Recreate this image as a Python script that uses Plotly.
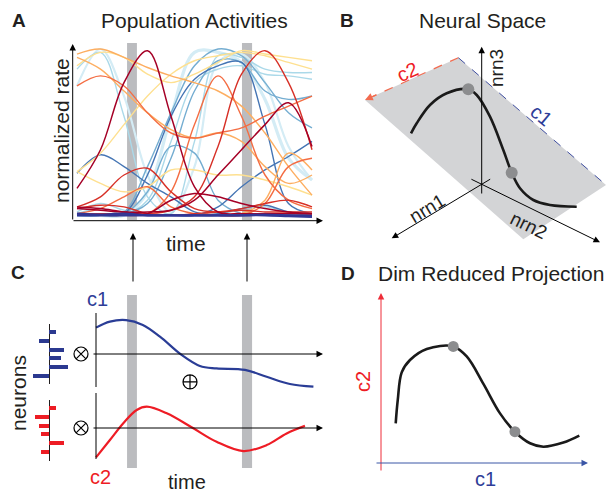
import plotly.graph_objects as go

W, H = 606, 495
FONT = "Liberation Sans, Arial, Helvetica, sans-serif"

# ---------------- data ----------------
# Panel A: population activity (normalized rate over time)
T_A = [0, 1, 2, 3, 4, 5, 6, 7, 8, 9, 10]
DR, R, OR, LO, YE = '#a50026', '#d73027', '#f46d43', '#fdae61', '#fee090'
VLB, LB, MB, BL, DB = '#d4ecf5', '#abd9e9', '#74add1', '#4575b4', '#313695'
A_COLORS = [VLB, VLB, LB, LB, LB, MB, MB, MB, BL, BL, BL, BL,
            YE, YE, YE, LO, LO, LO, OR, OR, OR, R, R, R, DR, DR, DR, DB, DB]
A_WIDTHS = [3.2, 2.2, 1.4, 1.4, 1.4, 1.4, 1.4, 1.4, 1.4, 1.4, 1.4, 1.4,
            1.4, 1.4, 1.4, 1.4, 1.4, 1.4, 1.4, 1.4, 1.4, 1.4, 1.4, 1.4, 1.5, 1.5, 1.5, 2.2, 2.2]
A_VALUES = [
    [0.01, 0.01, 0.01, 0.15, 0.60, 0.98, 0.98, 0.92, 0.70, 0.35, 0.22],
    [0.78, 1.00, 0.72, 0.25, 0.03, 0.30, 0.92, 0.97, 0.80, 0.42, 0.22],
    [0.88, 0.98, 0.60, 0.12, 0.02, 0.45, 0.96, 0.95, 0.88, 0.86, 0.86],
    [0.02, 0.05, 0.02, 0.10, 0.45, 0.80, 0.88, 0.90, 0.85, 0.84, 0.82],
    [0.03, 0.08, 0.04, 0.01, 0.01, 0.01, 0.01, 0.05, 0.06, 0.03, 0.01],
    [0.01, 0.01, 0.03, 0.30, 0.62, 0.90, 1.00, 0.96, 0.80, 0.62, 0.53],
    [0.01, 0.01, 0.02, 0.15, 0.42, 0.38, 0.10, 0.02, 0.01, 0.01, 0.01],
    [0.01, 0.01, 0.02, 0.08, 0.35, 0.75, 0.93, 0.92, 0.75, 0.70, 0.72],
    [0.01, 0.01, 0.02, 0.25, 0.60, 0.82, 0.90, 0.92, 0.55, 0.08, 0.02],
    [0.26, 0.37, 0.30, 0.20, 0.12, 0.03, 0.01, 0.01, 0.01, 0.01, 0.01],
    [0.01, 0.01, 0.01, 0.01, 0.01, 0.01, 0.06, 0.18, 0.28, 0.36, 0.45],
    [0.01, 0.01, 0.01, 0.01, 0.01, 0.01, 0.02, 0.05, 0.07, 0.03, 0.01],
    [0.27, 0.38, 0.55, 0.72, 0.85, 0.93, 0.96, 0.98, 0.96, 0.92, 0.88],
    [0.27, 0.20, 0.15, 0.18, 0.28, 0.28, 0.25, 0.25, 0.22, 0.18, 0.13],
    [0.90, 0.98, 0.95, 0.85, 0.80, 0.85, 0.92, 0.99, 0.97, 0.95, 0.93],
    [0.97, 1.00, 0.95, 0.89, 0.84, 0.80, 0.75, 0.66, 0.50, 0.30, 0.13],
    [0.95, 0.88, 0.75, 0.62, 0.52, 0.47, 0.50, 0.45, 0.30, 0.20, 0.25],
    [0.01, 0.01, 0.01, 0.01, 0.01, 0.01, 0.01, 0.02, 0.10, 0.38, 0.28],
    [0.78, 0.84, 0.78, 0.62, 0.50, 0.47, 0.50, 0.53, 0.60, 0.66, 0.72],
    [0.01, 0.01, 0.01, 0.02, 0.15, 0.55, 0.84, 0.60, 0.25, 0.10, 0.05],
    [0.02, 0.05, 0.12, 0.18, 0.06, 0.02, 0.01, 0.01, 0.08, 0.30, 0.35],
    [0.06, 0.12, 0.25, 0.29, 0.15, 0.05, 0.03, 0.04, 0.03, 0.03, 0.03],
    [0.05, 0.07, 0.06, 0.02, 0.01, 0.02, 0.03, 0.05, 0.08, 0.10, 0.06],
    [0.02, 0.02, 0.02, 0.02, 0.04, 0.12, 0.42, 0.85, 0.99, 0.80, 0.40],
    [0.17, 0.40, 0.80, 0.99, 0.60, 0.18, 0.03, 0.02, 0.02, 0.02, 0.02],
    [0.05, 0.04, 0.03, 0.03, 0.04, 0.10, 0.25, 0.40, 0.55, 0.68, 0.42],
    [0.06, 0.05, 0.03, 0.02, 0.10, 0.14, 0.12, 0.08, 0.05, 0.03, 0.02],
    [0.02, 0.015, 0.02, 0.01, 0.01, 0.01, 0.01, 0.01, 0.015, 0.01, 0.005],
    [0.01, 0.01, 0.01, 0.01, 0.01, 0.01, 0.01, 0.01, 0.01, 0.005, 0.0],
]
STIM_WINDOWS = [(2.13, 2.55), (7.02, 7.45)]

# Panel C: component time courses
C1_T = [0.81, 1.40, 2.09, 2.80, 3.53, 4.45, 5.23, 5.94, 7.15, 8.07, 9.06, 10.06]
C1_V = [0.88, 1.08, 1.13, 0.97, 0.58, -0.03, -0.40, -0.48, -0.53, -0.76, -1.00, -1.09]
C2_T = [0.81, 1.40, 1.97, 2.54, 2.97, 3.82, 4.95, 5.94, 7.08, 8.07, 8.92, 9.70]
C2_V = [-0.98, -0.40, 0.16, 0.60, 0.71, 0.49, -0.01, -0.46, -0.77, -0.57, -0.18, 0.07]
NEURONS = [1, 2, 3, 4, 5, 6]
W_C1 = [0.37, -0.50, 0.75, 0.58, 0.97, -0.78]
W_C2 = [0.37, -0.72, -0.50, -0.42, 0.73, -0.42]

# Panel D: trajectory in (c1, c2)
D_C1 = [0.071, 0.081, 0.100, 0.140, 0.221, 0.349, 0.414, 0.494, 0.575, 0.647, 0.720, 0.784, 0.881, 0.958]
D_C2 = [0.233, 0.371, 0.533, 0.606, 0.671, 0.686, 0.627, 0.467, 0.292, 0.184, 0.116, 0.096, 0.120, 0.161]
D_DOTS = [5, 9]

# Panel B: schematic neural space (drawing units)
B_PLANE_X = [458.3, 365.0, 523.3, 606.0]
B_PLANE_Y = [57.7, 100.0, 239.3, 185.0]
B_CURVE_X = [411.0, 416.7, 430.0, 446.7, 468.3, 476.7, 490.0, 503.3, 511.7, 520.0, 533.3, 550.0, 576.7]
B_CURVE_Y = [133.3, 123.3, 105.0, 93.3, 89.3, 95.0, 116.7, 150.0, 172.7, 188.3, 200.0, 205.0, 206.7]
B_DOTS = [4, 8]

# ---------------- helpers (pixel -> paper) ----------------
def PX(x):
    return x / W


def PY(y):
    return 1 - y / H


def dom_x(a, b):
    return [PX(a), PX(b)]


def dom_y(top, bottom):
    return [PY(bottom), PY(top)]


T0, TS = 77.0, 23.5  # time axis pixel origin / scale
fig = go.Figure()

# Panel A lines
for col, wd, vals in zip(A_COLORS, A_WIDTHS, A_VALUES):
    fig.add_trace(go.Scatter(x=T_A, y=vals, mode='lines', xaxis='x', yaxis='y',
                             line=dict(color=col, width=wd, shape='spline', smoothing=1.0),
                             hoverinfo='skip'))

# Panel C curves
fig.add_trace(go.Scatter(x=C1_T, y=C1_V, mode='lines', xaxis='x2', yaxis='y2',
                         line=dict(color='#2a3d96', width=2.2, shape='spline', smoothing=1.0)))
fig.add_trace(go.Scatter(x=C2_T, y=C2_V, mode='lines', xaxis='x2', yaxis='y3',
                         line=dict(color='#ee1c25', width=2.2, shape='spline', smoothing=1.0)))
# product / sum symbols
SYM = dict(size=14, color='black', line=dict(width=1.2, color='black'))
fig.add_trace(go.Scatter(x=[(81 - T0) / TS], y=[0], mode='markers', xaxis='x2', yaxis='y2',
                         marker=dict(SYM, symbol='circle-x-open')))
fig.add_trace(go.Scatter(x=[(81 - T0) / TS], y=[0], mode='markers', xaxis='x2', yaxis='y3',
                         marker=dict(SYM, symbol='circle-x-open')))
fig.add_trace(go.Scatter(x=[(190 - T0) / TS], y=[-0.93], mode='markers', xaxis='x2', yaxis='y2',
                         marker=dict(SYM, symbol='circle-cross-open')))

# Panel C weights
fig.add_trace(go.Bar(x=W_C1, y=NEURONS, orientation='h', xaxis='x4', yaxis='y4',
                     marker=dict(color='#2b3990', line=dict(width=0)), width=0.45))
fig.add_trace(go.Bar(x=W_C2, y=NEURONS, orientation='h', xaxis='x5', yaxis='y5',
                     marker=dict(color='#ed1c24', line=dict(width=0)), width=0.45))

# Panel D
fig.add_trace(go.Scatter(x=D_C1, y=D_C2, mode='lines', xaxis='x6', yaxis='y6',
                         line=dict(color='#1a1a1a', width=2.6, shape='spline', smoothing=1.0)))
fig.add_trace(go.Scatter(x=[D_C1[i] for i in D_DOTS], y=[D_C2[i] for i in D_DOTS], mode='markers',
                         xaxis='x6', yaxis='y6', marker=dict(color='#8c8d8f', size=11)))

# Panel B
fig.add_trace(go.Scatter(x=B_PLANE_X + [B_PLANE_X[0]], y=B_PLANE_Y + [B_PLANE_Y[0]], mode='lines',
                         fill='toself', fillcolor='#d3d4d6', line=dict(width=0), xaxis='x7', yaxis='y7'))
fig.add_trace(go.Scatter(x=[B_PLANE_X[0], B_PLANE_X[3]], y=[B_PLANE_Y[0], B_PLANE_Y[3]], mode='lines',
                         line=dict(color='#3f4ea0', width=1, dash='dash'), xaxis='x7', yaxis='y7'))
fig.add_trace(go.Scatter(x=[B_PLANE_X[0], B_PLANE_X[1] + 8], y=[B_PLANE_Y[0], B_PLANE_Y[1] - 3.6], mode='lines',
                         line=dict(color='#f26b4f', width=1.2, dash='dash'), xaxis='x7', yaxis='y7'))
fig.add_trace(go.Scatter(x=B_CURVE_X, y=B_CURVE_Y, mode='lines', xaxis='x7', yaxis='y7',
                         line=dict(color='#1a1a1a', width=2.6, shape='spline', smoothing=1.0)))
fig.add_trace(go.Scatter(x=[B_CURVE_X[i] for i in B_DOTS], y=[B_CURVE_Y[i] for i in B_DOTS], mode='markers',
                         xaxis='x7', yaxis='y7', marker=dict(color='#8c8d8f', size=12)))

# ---------------- shapes ----------------
shapes = []
for (a, b) in STIM_WINDOWS:
    shapes.append(dict(type='rect', xref='x', yref='paper', x0=a, x1=b, y0=PY(220), y1=PY(43),
                       fillcolor='#bbbcbf', line=dict(width=0), layer='below'))
    shapes.append(dict(type='rect', xref='x2', yref='paper', x0=a, x1=b, y0=PY(468), y1=PY(295),
                       fillcolor='#bbbcbf', line=dict(width=0), layer='below'))


def pline(x0, y0, x1, y1, color='black', width=1):
    shapes.append(dict(type='line', xref='paper', yref='paper', x0=PX(x0), y0=PY(y0),
                       x1=PX(x1), y1=PY(y1), line=dict(color=color, width=width)))


pline(96, 313, 96, 387)
pline(96, 393, 96, 459)

# ---------------- annotations ----------------
ann = []


def parrow(hx, hy, tx, ty, color='black', width=1):
    ann.append(dict(xref='paper', yref='paper', x=PX(hx), y=PY(hy), ax=tx - hx, ay=ty - hy,
                    axref='pixel', ayref='pixel', text='', showarrow=True, arrowhead=2,
                    arrowsize=1.3, arrowwidth=width, arrowcolor=color, standoff=0))


def barrow(hx, hy, tx, ty, color='black', width=1):
    ann.append(dict(xref='x7', yref='y7', x=hx, y=hy, ax=tx, ay=ty, axref='x7', ayref='y7',
                    text='', showarrow=True, arrowhead=2, arrowsize=1.3, arrowwidth=width,
                    arrowcolor=color, standoff=0))


# Panel A axes
parrow(72.7, 44, 72.7, 221)
parrow(323, 220.7, 72, 220.7)
# stimulus arrows
parrow(133, 233, 133, 283)
parrow(247, 233, 247, 283)
# Panel C axes
parrow(323, 354, 92, 354)
parrow(323, 428, 92, 428)
# Panel D axes
parrow(381, 293, 381, 472, color='#ee2d38')
parrow(588, 463, 375, 463, color='#3a56a6')
# Panel B axes
barrow(481.7, 46.7, 481.7, 195)
barrow(391.7, 238.3, 491.7, 178.3)
barrow(600, 242.3, 469.9, 178.5)
barrow(365, 100, 378, 94.1, color='#f26b4f', width=1.2)


def ptext(t, x, y, size=20, color='#231f20', angle=0, bold=False, xanchor='center'):
    ann.append(dict(xref='paper', yref='paper', x=PX(x), y=PY(y), text=('<b>%s</b>' % t) if bold else t,
                    showarrow=False, xanchor=xanchor, yanchor='middle', textangle=angle,
                    font=dict(family=FONT, size=size, color=color)))


ptext('A', 19, 20, size=19, bold=True)
ptext('Population Activities', 194, 20, size=21)
ptext('normalized rate', 62, 131, size=21, angle=-90)
ptext('time', 186, 243, size=21)
ptext('B', 347, 20, size=19, bold=True)
ptext('Neural Space', 482, 20, size=21)
ptext('nrn3', 496, 68, size=19, angle=-90)
ptext('nrn1', 427, 208, size=19, angle=-31)
ptext('nrn2', 529, 225, size=19, angle=26)
ptext('c2', 407, 72, size=20, color='#ee1c25', angle=-24)
ptext('c1', 541, 115, size=20, color='#2e3d98', angle=40)
ptext('C', 18, 272, size=19, bold=True)
ptext('c1', 98, 299, size=20, color='#2e3d98')
ptext('c2', 100, 477, size=20, color='#ee1c25')
ptext('time', 187, 482, size=20)
ptext('neurons', 18, 393, size=21, angle=-90)
ptext('D', 348, 273, size=19, bold=True)
ptext('Dim Reduced Projection', 376, 273, size=21, xanchor='left')
ptext('c2', 363, 382, size=20, color='#ee1c25', angle=-90)
ptext('c1', 485, 479, size=20, color='#2e3d98')

hidden = dict(visible=False, fixedrange=True)
bar_x = dict(visible=True, showticklabels=False, ticks='', showgrid=False, showline=False,
             zeroline=True, zerolinecolor='#231f20', zerolinewidth=1, range=[-0.95, 1.15])

fig.update_layout(
    width=W, height=H, margin=dict(l=0, r=0, t=0, b=0, pad=0),
    paper_bgcolor='white', plot_bgcolor='rgba(0,0,0,0)', showlegend=False,
    font=dict(family=FONT),
    xaxis=dict(hidden, domain=dom_x(72, 326), range=[(72 - T0) / TS, (326 - T0) / TS], anchor='y'),
    yaxis=dict(hidden, domain=dom_y(45, 221), range=[(217 - 221) / 168, (217 - 45) / 168], anchor='x'),
    xaxis2=dict(hidden, domain=dom_x(72, 326), range=[(72 - T0) / TS, (326 - T0) / TS], anchor='y2'),
    yaxis2=dict(hidden, domain=dom_y(300, 392), range=[(354 - 392) / 30, (354 - 300) / 30], anchor='x2'),
    yaxis3=dict(hidden, domain=dom_y(392, 466), range=[(428 - 466) / 30, (428 - 392) / 30], anchor='x2'),
    xaxis4=dict(bar_x, domain=dom_x(30, 72), anchor='y4'),
    yaxis4=dict(hidden, domain=dom_y(324, 384), range=[6.909, 0.091], anchor='x4'),
    xaxis5=dict(bar_x, domain=dom_x(30, 72), anchor='y5'),
    yaxis5=dict(hidden, domain=dom_y(400, 461), range=[7.02, 0.09], anchor='x5'),
    xaxis6=dict(hidden, domain=dom_x(374, 590), range=[(374 - 381) / 207, (590 - 381) / 207], anchor='y6'),
    yaxis6=dict(hidden, domain=dom_y(290, 474), range=[(463 - 474) / 170, (463 - 290) / 170], anchor='x6'),
    xaxis7=dict(hidden, domain=dom_x(340, 606), range=[340, 606], anchor='y7'),
    yaxis7=dict(hidden, domain=dom_y(40, 250), range=[250, 40], anchor='x7'),
    shapes=shapes, annotations=ann, bargap=0,
)
fig.update_traces(hoverinfo='skip')

fig.write_html("out.html")
